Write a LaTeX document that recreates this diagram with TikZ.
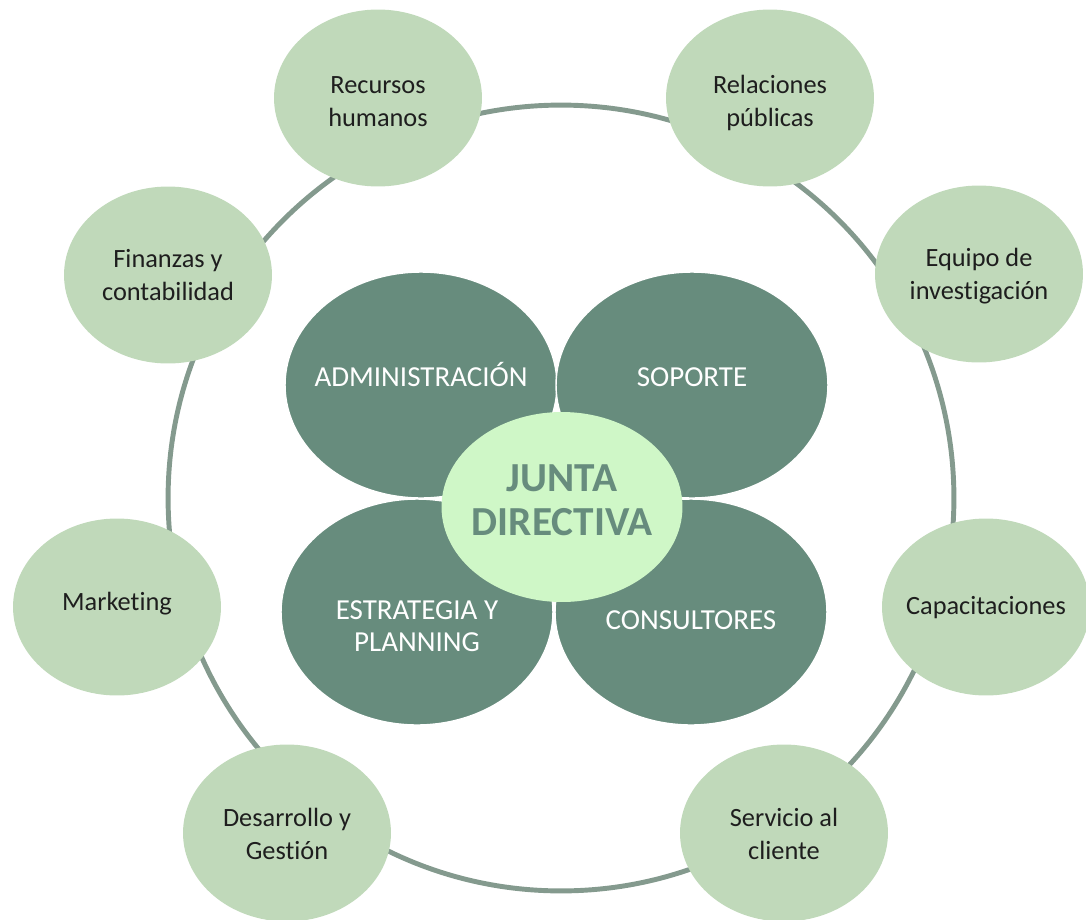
\documentclass[tikz,border=0pt]{standalone}
\usepackage{fontspec}
\setmainfont[Ligatures=NoCommon]{Carlito}
\usepackage{tikz}
\usetikzlibrary{shapes.geometric, positioning}
\definecolor{areafill}{HTML}{C0D9BA}
\definecolor{deptofill}{HTML}{678C7D}
\definecolor{juntafill}{HTML}{CFF7C7}
\definecolor{ringline}{HTML}{849A8E}
\definecolor{areatext}{HTML}{1E1E1E}
% text of fixed size 0, lowered by #1, last line on the baseline
\newcommand{\lbl}[2]{\raisebox{#1}[0pt][0pt]{\makebox[0pt]{\begin{tabular}[b]{@{}c@{}}#2\end{tabular}}}}
\tikzstyle{area}=[ellipse, fill=areafill, inner sep=0pt, minimum width=4.16cm, minimum height=3.54cm, text=areatext, font=\fontsize{15}{18.7}\selectfont]
\tikzstyle{depto}=[ellipse, fill=deptofill, draw=white, line width=0.8pt, inner sep=0pt, minimum width=5.44cm, minimum height=4.52cm, text=white, font=\fontsize{16.5}{18.1}\selectfont]
\tikzstyle{junta}=[ellipse, fill=juntafill, inner sep=0pt, minimum width=4.82cm, minimum height=3.8cm, text=deptofill, font=\fontsize{23.5}{25}\selectfont\bfseries]

\begin{document}
\begin{tikzpicture}[x=0.02cm, y=-0.02cm]
  \useasboundingbox (0,0) rectangle (1086,920);
  \node[circle, draw=ringline, line width=2.8pt, minimum size=15.72cm] (ring) at (561,498) {};

  \node[area] (rrhh) at (378,98) {\lbl{-16pt}{Recursos\\humanos}};
  \node[area] (rrpp) at (770,98) {\lbl{-16pt}{Relaciones\\públicas}};
  \node[area] (finanzas) at (168,275) {\lbl{-14.5pt}{Finanzas y\\contabilidad}};
  \node[area] (equipo) at (979,274) {\lbl{-14.5pt}{Equipo de\\investigación}};
  \node[area] (marketing) at (117,607) {\lbl{-2pt}{Marketing}};
  \node[area] (capacitaciones) at (986,607) {\lbl{-4.5pt}{Capacitaciones}};
  \node[area] (desarrollo) at (287,833) {\lbl{-15pt}{Desarrollo y\\Gestión}};
  \node[area] (servicio) at (784,833) {\lbl{-15pt}{Servicio al\\cliente}};

  \node[depto] (admin) at (421,385) {\lbl{-0.8pt}{ADMINISTRACIÓN}};
  \node[depto] (soporte) at (692,385) {\lbl{-0.8pt}{SOPORTE}};
  \node[depto] (estrategia) at (417,612) {\lbl{-22.3pt}{ESTRATEGIA Y\\PLANNING}};
  \node[depto] (consultores) at (691,612) {\lbl{-9.8pt}{CONSULTORES}};

  \node[junta] (directiva) at (562,507) {\lbl{-16.1pt}{JUNTA\\DIRECTIVA}};
\end{tikzpicture}
\end{document}
